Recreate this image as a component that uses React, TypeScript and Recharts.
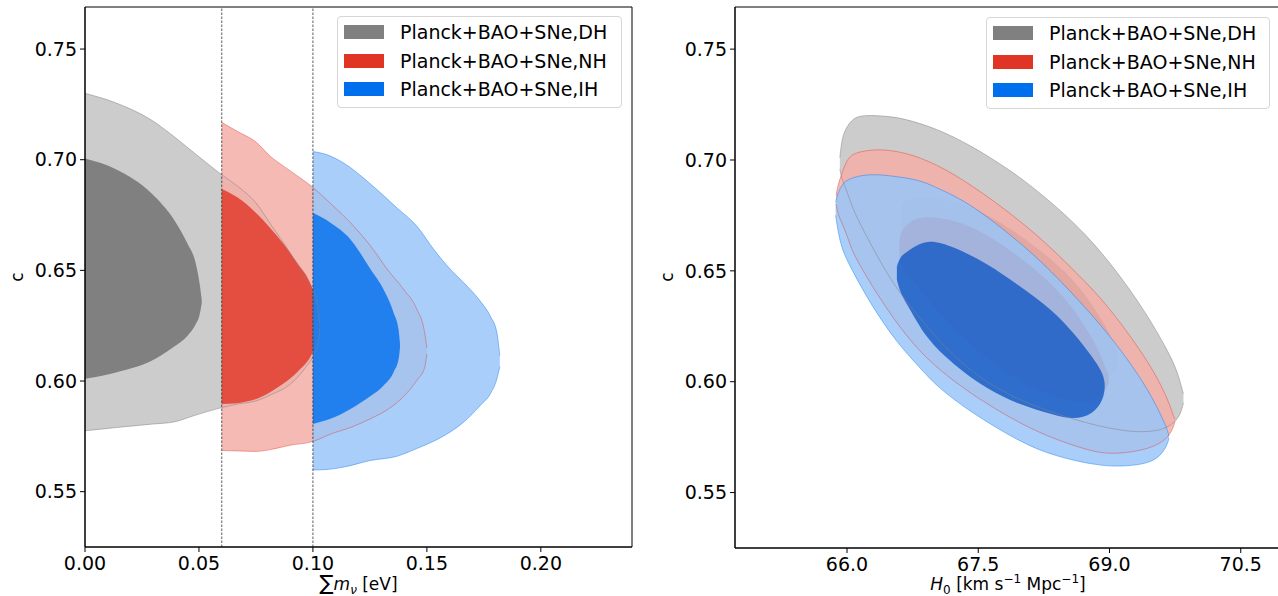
import React from "react";
import { ComposedChart, Area, XAxis, YAxis, ReferenceLine, ReferenceArea } from "recharts";

// each row: [x, lower c, upper c]
type Row = [number, number, number];

// left panel: sum of neutrino masses [eV]
const dhOuterMass: Row[] = [
  [0.0, 0.5775, 0.73], [0.014, 0.579, 0.7255], [0.029, 0.5805, 0.718], [0.039, 0.5815, 0.7105],
  [0.048, 0.5844, 0.703], [0.06, 0.588, 0.6932], [0.067, 0.5896, 0.688], [0.075, 0.591, 0.6805],
  [0.082, 0.594, 0.67], [0.09, 0.5985, 0.658], [0.0967, 0.606, 0.646], [0.1, 0.611, 0.6414],
  [0.1025, 0.618, 0.6309], [0.103, 0.624, 0.6245],
];
const dhInnerMass: Row[] = [
  [0.0, 0.601, 0.7005], [0.014, 0.604, 0.6955], [0.029, 0.609, 0.685], [0.039, 0.6155, 0.673],
  [0.045, 0.6205, 0.662], [0.0485, 0.6255, 0.6535], [0.0503, 0.63, 0.644], [0.0512, 0.635, 0.637],
];
const nhOuterMass: Row[] = [
  [0.06, 0.5686, 0.7168], [0.067, 0.5684, 0.7127], [0.075, 0.5682, 0.708], [0.0814, 0.569, 0.7015],
  [0.09, 0.571, 0.695], [0.099, 0.5724, 0.6883], [0.109, 0.5765, 0.679], [0.1165, 0.579, 0.6715],
  [0.1253, 0.583, 0.661], [0.1326, 0.587, 0.6505], [0.1398, 0.593, 0.6414], [0.1456, 0.6003, 0.6324],
  [0.149, 0.606, 0.622], [0.15, 0.6122, 0.615],
];
const nhInnerMass: Row[] = [
  [0.06, 0.5896, 0.6868], [0.0668, 0.59, 0.683], [0.0755, 0.592, 0.6755], [0.0843, 0.597, 0.6655],
  [0.093, 0.6039, 0.6535], [0.0993, 0.6117, 0.643], [0.1018, 0.6174, 0.6354], [0.1033, 0.6249, 0.626],
];
const ihOuterMass: Row[] = [
  [0.1, 0.5598, 0.7037], [0.106, 0.56, 0.7023], [0.1135, 0.5611, 0.6985], [0.1253, 0.5641, 0.689],
  [0.1369, 0.566, 0.6782], [0.1456, 0.5695, 0.67], [0.153, 0.5728, 0.6595], [0.1603, 0.577, 0.6505],
  [0.1661, 0.5814, 0.6445], [0.1735, 0.589, 0.636], [0.178, 0.5945, 0.629], [0.1807, 0.6009, 0.622],
  [0.182, 0.6065, 0.6114],
];
const ihInnerMass: Row[] = [
  [0.1, 0.5806, 0.676], [0.1077, 0.5829, 0.6715], [0.1165, 0.5874, 0.664], [0.1253, 0.5932, 0.6505],
  [0.131, 0.598, 0.6414], [0.1354, 0.604, 0.6309], [0.1376, 0.6099, 0.623], [0.1382, 0.615, 0.617],
];

// right panel: H0 [km/s/Mpc]
const dhOuterH0: Row[] = [
  [65.918, 0.696, 0.701], [65.94, 0.6915, 0.709], [65.98, 0.688, 0.714], [66.07, 0.6775, 0.719],
  [66.19, 0.668, 0.7203], [66.45, 0.649, 0.7198], [66.64, 0.638, 0.7188], [67.02, 0.6195, 0.7143],
  [67.41, 0.6045, 0.7067], [67.82, 0.5945, 0.6966], [68.17, 0.5885, 0.6865], [68.74, 0.581, 0.667],
  [69.23, 0.5772, 0.6422], [69.5, 0.5775, 0.6255], [69.65, 0.579, 0.615], [69.77, 0.5825, 0.6054],
  [69.82, 0.5865, 0.598], [69.845, 0.5905, 0.5945],
];
const dhInnerH0: Row[] = [
  [66.62, 0.669, 0.679], [66.66, 0.662, 0.6825], [66.95, 0.647, 0.6835], [67.41, 0.63, 0.68],
  [67.98, 0.614, 0.6665], [68.44, 0.606, 0.652], [68.74, 0.6017, 0.639], [69.04, 0.602, 0.62],
  [69.09, 0.608, 0.6114],
];
const nhOuterH0: Row[] = [
  [65.875, 0.68, 0.684], [65.9, 0.675, 0.6895], [65.96, 0.67, 0.696], [66.0, 0.666, 0.7],
  [66.05, 0.66, 0.702], [66.11, 0.655, 0.7035], [66.38, 0.6369, 0.7053], [66.76, 0.6159, 0.7026],
  [67.14, 0.6024, 0.6957], [67.52, 0.5919, 0.686], [67.9, 0.5829, 0.675], [68.28, 0.5754, 0.6625],
  [68.78, 0.5686, 0.643], [69.04, 0.5671, 0.6313], [69.46, 0.5694, 0.6085], [69.67, 0.5745, 0.592],
  [69.73, 0.5795, 0.5845], [69.75, 0.582, 0.583],
];
const nhInnerH0: Row[] = [
  [66.6, 0.655, 0.664], [66.62, 0.651, 0.6685], [66.76, 0.646, 0.6737], [66.95, 0.635, 0.6748],
  [67.41, 0.616, 0.6715], [67.98, 0.5988, 0.6565], [68.36, 0.5935, 0.6436], [68.59, 0.591, 0.633],
  [68.85, 0.59, 0.617], [68.99, 0.599, 0.603],
];
const ihOuterH0: Row[] = [
  [65.87, 0.675, 0.681], [65.9, 0.667, 0.6855], [65.94, 0.6605, 0.6885], [66.0, 0.6545, 0.6915],
  [66.26, 0.6355, 0.694], [66.57, 0.6175, 0.6925], [66.83, 0.6065, 0.691], [67.02, 0.598, 0.6876],
  [67.41, 0.5863, 0.6805], [67.98, 0.5727, 0.6628], [68.36, 0.5665, 0.649], [68.93, 0.5614, 0.6248],
  [69.31, 0.5622, 0.6046], [69.5, 0.5641, 0.592], [69.6, 0.5675, 0.584], [69.66, 0.5715, 0.5785],
  [69.68, 0.5745, 0.5755],
];
const ihInnerH0: Row[] = [
  [66.57, 0.646, 0.652], [66.61, 0.64, 0.6565], [66.68, 0.6354, 0.6585], [66.91, 0.619, 0.6647],
  [67.21, 0.608, 0.661], [67.6, 0.5965, 0.6535], [67.98, 0.5895, 0.643], [68.36, 0.585, 0.632],
  [68.59, 0.5829, 0.622], [68.81, 0.5851, 0.611], [68.93, 0.5919, 0.6035], [68.945, 0.597, 0.599],
];

const seriesNames = ["Planck+BAO+SNe,DH", "Planck+BAO+SNe,NH", "Planck+BAO+SNe,IH"];
const massTicks = [0, 0.05, 0.1, 0.15, 0.2];
const h0Ticks = [66.0, 67.5, 69.0, 70.5];
const cTicks = [0.55, 0.6, 0.65, 0.7, 0.75];
const massThresholds = [0.06, 0.1];

const massDomain: [number, number] = [0, 0.24];
const h0Domain: [number, number] = [64.72, 70.96];
const cDomain: [number, number] = [0.525, 0.769];

// getdist-like colours: dark = inner (68%), light = outer (95%)
const DARK = ["#808080", "#e03424", "#006fed"];
const LIGHT = ["#cccccc", "#f3aea7", "#99c5f8"];
const ALPHA = [1, 0.85, 0.85];
const INNER_ALPHA = [1, 0.8, 0.8];
const LINE_ALPHA = [0.55, 0.45, 0.45];
const FONT = "DejaVu Sans";

const toRange = (rows: Row[]) => rows.map(([x, lo, hi]) => ({ x, r: [lo, hi] }));

const tickStyle = { fill: "#000", fontSize: 19, fontFamily: FONT };
const axisStyle = { stroke: "#000", strokeWidth: 1 };

function CLabel() {
  return (
    <text x={23} y={277} transform="rotate(-90, 23, 277)" textAnchor="middle" fontFamily={FONT} fontSize={17} fill="#000">
      c
    </text>
  );
}

function MassLabel() {
  return (
    <text x={358.5} y={590} textAnchor="middle" fontFamily={FONT} fontSize={17} fill="#000">
      <tspan fontSize={21}>∑</tspan>
      <tspan fontStyle="italic">m</tspan>
      <tspan fontStyle="italic" fontSize={12} dy={4}>ν</tspan>
      <tspan dy={-4}>{"\u00a0[eV]"}</tspan>
    </text>
  );
}

function H0Label() {
  return (
    <text x={358} y={590} textAnchor="middle" fontFamily={FONT} fontSize={17} fill="#000">
      <tspan fontStyle="italic">H</tspan>
      <tspan fontSize={12} dy={4}>0</tspan>
      <tspan dy={-4}>{"\u00a0[km s"}</tspan>
      <tspan fontSize={12} dy={-7}>−1</tspan>
      <tspan dy={7}>{"\u00a0Mpc"}</tspan>
      <tspan fontSize={12} dy={-7}>−1</tspan>
      <tspan dy={7}>]</tspan>
    </text>
  );
}

function LegendBox({ left, top, width }: { left: number; top: number; width: number }) {
  return (
    <div
      style={{
        position: "absolute", left, top, width, height: 92, boxSizing: "border-box",
        border: "1px solid #d6d6d6", borderRadius: 4, background: "rgba(255,255,255,0.8)",
      }}
    >
      {seriesNames.map((name, i) => (
        <div key={name} style={{ position: "absolute", left: 6, top: 1 + i * 28.5, height: 28, display: "flex", alignItems: "center" }}>
          <div style={{ width: 40, height: 14, background: DARK[i] }} />
          <span style={{ marginLeft: 16, fontSize: 19, fontFamily: FONT, color: "#000", whiteSpace: "nowrap", lineHeight: "28px" }}>
            {name}
          </span>
        </div>
      ))}
    </div>
  );
}

interface PanelProps {
  sets: [Row[], Row[]][];
  xDomain: [number, number];
  xTicks: number[];
  xDigits: number;
  xLabel: React.ReactElement;
  marginRight: number;
  xAxisHeight: number;
  curve: "monotone" | "basis";
  innerColors?: string[];
  thresholds?: number[];
}

function Panel({ sets, xDomain, xTicks, xDigits, xLabel, marginRight, xAxisHeight, curve, innerColors = DARK, thresholds = [] }: PanelProps) {
  const fills = sets.flatMap(([outer, inner], i) => [
    <Area
      key={`o${i}`}
      type={curve}
      data={toRange(outer)}
      dataKey="r"
      fill={LIGHT[i]}
      fillOpacity={ALPHA[i]}
      stroke="none"
      dot={false}
      activeDot={false}
      isAnimationActive={false}
    />,
    <Area
      key={`i${i}`}
      type={curve}
      data={toRange(inner)}
      dataKey="r"
      fill={innerColors[i]}
      fillOpacity={INNER_ALPHA[i]}
      stroke="none"
      dot={false}
      activeDot={false}
      isAnimationActive={false}
    />,
  ]);
  // outer contour edges go on top, the thin lines show through the later fills
  const outlines = sets.map(([outer], i) => (
    <Area
      key={`l${i}`}
      type={curve}
      data={toRange(outer)}
      dataKey="r"
      fill="none"
      fillOpacity={0}
      stroke={DARK[i]}
      strokeOpacity={LINE_ALPHA[i]}
      strokeWidth={0.9}
      dot={false}
      activeDot={false}
      isAnimationActive={false}
    />
  ));

  return (
    <ComposedChart width={640} height={596} margin={{ top: 7, right: marginRight, left: 0, bottom: 0 }}>
      <XAxis
        type="number"
        dataKey="x"
        domain={xDomain}
        ticks={xTicks}
        interval={0}
        allowDataOverflow
        tickFormatter={(v: number) => v.toFixed(xDigits)}
        height={xAxisHeight}
        tickSize={5}
        tickMargin={5}
        tick={tickStyle}
        axisLine={axisStyle}
        tickLine={axisStyle}
        label={xLabel}
      />
      <YAxis
        type="number"
        domain={cDomain}
        ticks={cTicks}
        interval={0}
        allowDataOverflow
        tickFormatter={(v: number) => v.toFixed(2)}
        width={85}
        tickSize={5}
        tickMargin={3}
        tick={tickStyle}
        axisLine={axisStyle}
        tickLine={axisStyle}
        label={<CLabel />}
      />
      {fills}
      {outlines}
      {thresholds.map((t) => (
        <ReferenceLine key={t} x={t} stroke="#333" strokeWidth={0.8} strokeDasharray="2.5 1.5" />
      ))}
      <ReferenceArea
        x1={xDomain[0]}
        x2={xDomain[1]}
        y1={cDomain[0]}
        y2={cDomain[1]}
        fill="none"
        fillOpacity={0}
        stroke="#000"
        strokeWidth={1}
        ifOverflow="visible"
      />
    </ComposedChart>
  );
}

export default function App() {
  return (
    <div style={{ position: "absolute", left: 0, top: 0, width: 1278, height: 596, overflow: "hidden", background: "#fff", fontFamily: FONT }}>
      <div style={{ position: "absolute", left: 0, top: 0 }}>
        <Panel
          sets={[[dhOuterMass, dhInnerMass], [nhOuterMass, nhInnerMass], [ihOuterMass, ihInnerMass]]}
          xDomain={massDomain}
          xTicks={massTicks}
          xDigits={2}
          xLabel={<MassLabel />}
          marginRight={8}
          xAxisHeight={49}
          curve="monotone"
          thresholds={massThresholds}
        />
      </div>
      <div style={{ position: "absolute", left: 650, top: 0 }}>
        <Panel
          sets={[[dhOuterH0, dhInnerH0], [nhOuterH0, nhInnerH0], [ihOuterH0, ihInnerH0]]}
          xDomain={h0Domain}
          xTicks={h0Ticks}
          xDigits={1}
          xLabel={<H0Label />}
          marginRight={9}
          xAxisHeight={48}
          curve="basis"
          innerColors={["#808080", "#e03424", "#1359c5"]}
        />
      </div>
      <LegendBox left={337} top={16} width={285} />
      <LegendBox left={986} top={17} width={284} />
    </div>
  );
}
